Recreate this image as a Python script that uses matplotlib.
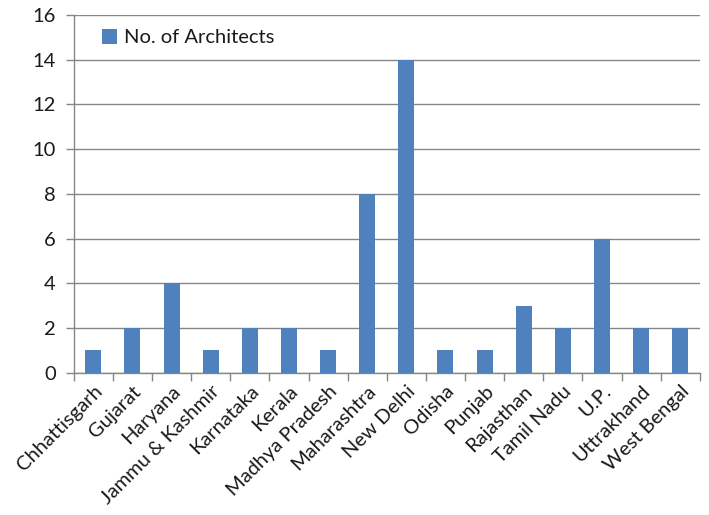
import matplotlib
matplotlib.use('Agg')
import matplotlib.pyplot as plt
import numpy as np

# ---------- Data ----------
STATES = ['Chhattisgarh', 'Gujarat', 'Haryana', 'Jammu & Kashmir', 'Karnataka',
          'Kerala', 'Madhya Pradesh', 'Maharashtra', 'New Delhi', 'Odisha',
          'Punjab', 'Rajasthan', 'Tamil Nadu', 'U.P.', 'Uttrakhand', 'West Bengal']
ARCHITECTS = [1, 2, 4, 1, 2, 2, 1, 8, 14, 1, 1, 3, 2, 6, 2, 2]
Y_TICKS = [0, 2, 4, 6, 8, 10, 12, 14, 16]

BAR_COLOR = '#4F81BD'
GRID_COLOR = '#868686'
TEXT_COLOR = '#1a1a1a'
FS = 14.5

plt.rcParams['font.family'] = ['Lato', 'DejaVu Sans']

fig = plt.figure(figsize=(7.09, 5.15), dpi=100)
ax = fig.add_axes([0.104, 0.276, 0.883, 0.695])

x = np.arange(len(STATES))
ax.bar(x, ARCHITECTS, width=0.41, color=BAR_COLOR, label='No. of Architects', zorder=3)

ax.set_xlim(-0.5, len(STATES) - 0.5)
ax.set_ylim(0, 16)
ax.set_yticks(Y_TICKS)
ax.yaxis.grid(True, color=GRID_COLOR, linewidth=1.0, zorder=0)

# category ticks sit between the bars
ax.set_xticks(np.arange(len(STATES) + 1) - 0.5)
ax.set_xticklabels([])
ax.set_xticks(x, minor=True)
ax.set_xticklabels(STATES, minor=True, rotation=45, ha='right', va='top',
                   rotation_mode='anchor', fontsize=FS, color=TEXT_COLOR)
ax.tick_params(axis='x', which='minor', length=0, pad=7)
ax.tick_params(axis='x', which='major', length=6, color=GRID_COLOR, width=1.0)
ax.tick_params(axis='y', length=6, color=GRID_COLOR, width=1.0, labelsize=FS,
               labelcolor=TEXT_COLOR, pad=7)

for side in ['top', 'right']:
    ax.spines[side].set_visible(False)
for side in ['left', 'bottom']:
    ax.spines[side].set_color(GRID_COLOR)
    ax.spines[side].set_linewidth(1.0)

leg = ax.legend(loc='upper left', bbox_to_anchor=(0.022, 1.0), frameon=False,
                borderaxespad=0.3, fontsize=FS, handlelength=0.75,
                handleheight=0.75, handletextpad=0.35)
for t in leg.get_texts():
    t.set_color(TEXT_COLOR)

fig.savefig('out.png', dpi=100)
